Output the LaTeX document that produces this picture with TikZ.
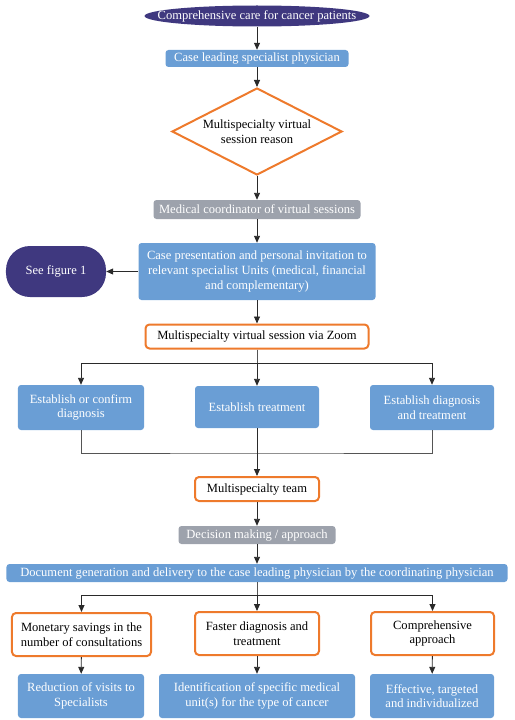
\documentclass[tikz,border=0pt]{standalone}
\usepackage{fontspec}
\setmainfont{Liberation Serif}
\usetikzlibrary{shapes.geometric,arrows.meta}
\definecolor{purp}{HTML}{3F387F}
\definecolor{blu}{HTML}{6A9ED5}
\definecolor{gry}{HTML}{9DA2AC}
\definecolor{org}{HTML}{EE7A2C}
\definecolor{ln}{HTML}{2A2A2A}
\tikzset{
  base/.style={font=\fontsize{12.6}{14.6}\selectfont, align=center, inner sep=1pt},
  bluebox/.style={base, fill=blu, text=white, rounded corners=3bp},
  graybox/.style={base, fill=gry, text=white, rounded corners=3bp},
  orbox/.style={base, draw=org, line width=2bp, fill=white, text=black, rounded corners=4bp},
  arr/.style={draw=ln, line width=0.9bp, -{Triangle[length=7bp,width=6bp]}},
  lin/.style={draw=ln!80, line width=0.9bp},
}
\begin{document}
\begin{tikzpicture}[x=1bp,y=-1bp]
\useasboundingbox (0,0) rectangle (515,720);
\fill[purp] (257,16) ellipse [x radius=112.5bp, y radius=10.5bp];
\node[base, text=white, minimum width=225bp, minimum height=21bp] (top) at (257,16) {Comprehensive care for cancer patients};
\node[bluebox, minimum width=183bp, minimum height=17bp] (lead) at (257,58.5) {Case leading specialist physician};
\node[diamond, draw=org, line width=2bp, fill=white, base, minimum width=170bp, minimum height=87bp, inner sep=0pt, aspect=1.95] (dia) at (257,131.5) {Multispecialty virtual\\session reason};
\node[graybox, minimum width=207bp, minimum height=19bp] (coord) at (257,209.5) {Medical coordinator of virtual sessions};
\node[bluebox, minimum width=237bp, minimum height=57bp] (pres) at (257,271.5) {Case presentation and personal invitation to\\relevant specialist Units (medical, financial\\and complementary)};
\node[base, fill=purp, text=white, rounded corners=24bp, minimum width=100bp, minimum height=51bp] (fig) at (56,271.5) {See figure 1};
\node[orbox, minimum width=223bp, minimum height=24bp] (zoom) at (257,336.5) {Multispecialty virtual session via Zoom};
\node[bluebox, minimum width=126bp, minimum height=45bp] (b1) at (81,407.5) {Establish or confirm\\diagnosis};
\node[bluebox, minimum width=124bp, minimum height=42bp] (b2) at (257,407) {Establish treatment};
\node[bluebox, minimum width=124bp, minimum height=45bp] (b3) at (432,407.5) {Establish diagnosis\\and treatment};
\node[orbox, minimum width=124bp, minimum height=24bp] (team) at (257,489) {Multispecialty team};
\node[graybox, minimum width=157bp, minimum height=18bp] (dec) at (257,535) {Decision making / approach};
\node[bluebox, minimum width=501bp, minimum height=18bp] (doc) at (257,573) {Document generation and delivery to the case leading physician by the coordinating physician};
\node[orbox, minimum width=139bp, minimum height=43bp] (o1) at (81.5,634.5) {Monetary savings in the\\number of consultations};
\node[orbox, minimum width=124bp, minimum height=43bp] (o2) at (257,633.5) {Faster diagnosis and\\treatment};
\node[orbox, minimum width=123bp, minimum height=43bp] (o3) at (432.5,633.5) {Comprehensive\\approach};
\node[bluebox, minimum width=126bp, minimum height=44bp] (r1) at (81,696) {Reduction of visits to\\Specialists};
\node[bluebox, minimum width=196bp, minimum height=44bp] (r2) at (257,696) {Identification of specific medical\\unit(s) for the type of cancer};
\node[bluebox, minimum width=124bp, minimum height=44bp] (r3) at (432,696) {Effective, targeted\\and individualized};
% connectors
\draw[arr] (top) -- (lead);
\draw[arr] (lead) -- (dia);
\draw[arr] (dia) -- (coord);
\draw[arr] (coord) -- (pres);
\draw[arr] (pres) -- (fig);
\draw[arr] (pres) -- (zoom);
\draw[arr] (zoom) -- (b2);
\draw[lin] (zoom.south) -- (257,363);
\draw[arr] (257,363) -| (b1.north);
\draw[arr] (257,363) -| (b3.north);
\draw[lin] (b1.south) |- (257,453) -| (b3.south);
\draw[arr] (b2) -- (team);
\draw[arr] (team) -- (dec);
\draw[arr] (dec) -- (doc);
\draw[arr] (doc) -- (o2);
\draw[lin] (doc.south) -- (257,595);
\draw[arr] (257,595) -| (o1.north);
\draw[arr] (257,595) -| (o3.north);
\draw[arr] (o1) -- (r1);
\draw[arr] (o2) -- (r2);
\draw[arr] (o3) -- (r3);
\end{tikzpicture}
\end{document}
